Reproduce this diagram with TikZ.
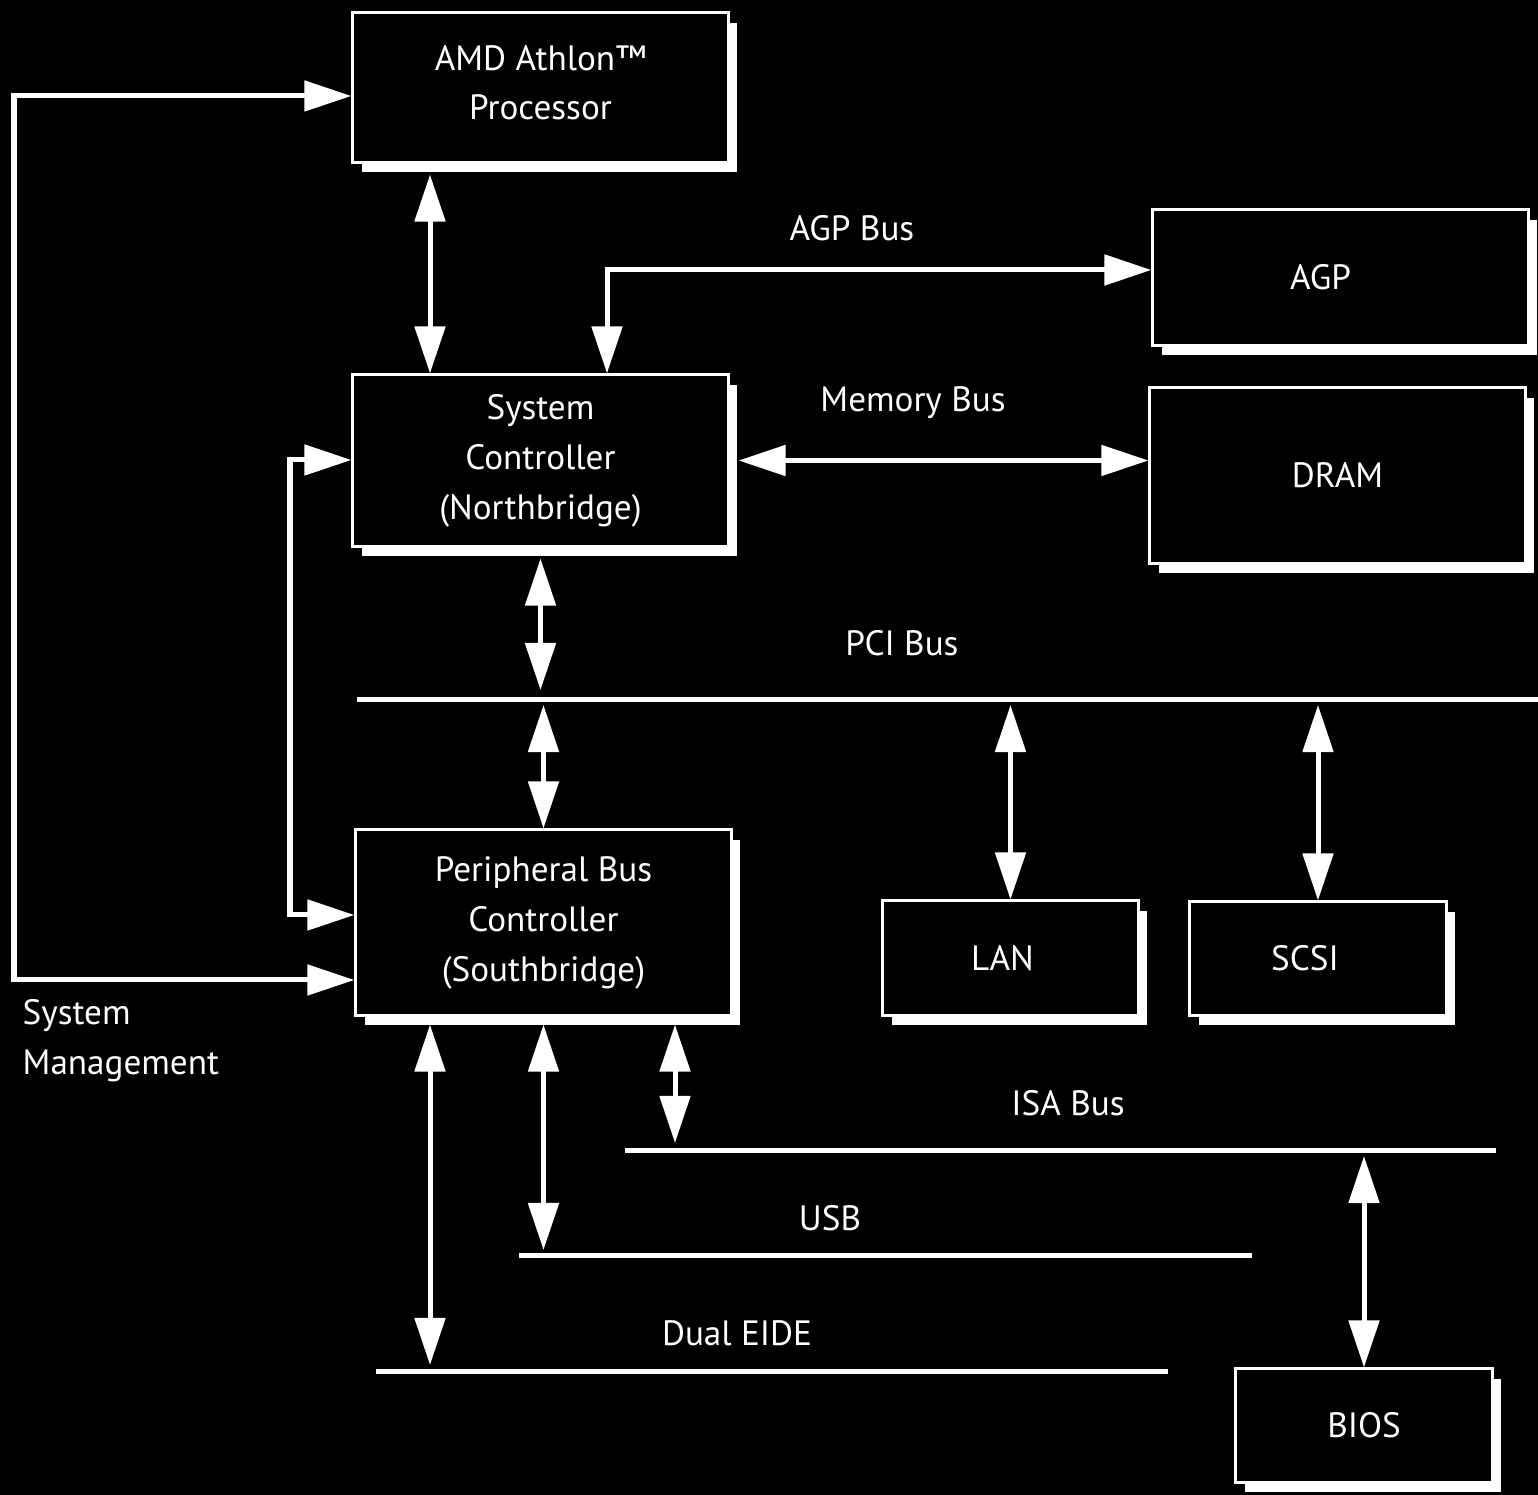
\documentclass[tikz,border=0pt]{standalone}
\usepackage{fontspec}
\setmainfont{PT Sans}
\usetikzlibrary{arrows.meta,shadows}

\tikzset{
  box/.style={draw=white, fill=black, line width=0.03cm, text=white, inner sep=0pt,
    align=center, font=\fontsize{10pt}{14.2pt}\selectfont,
    drop shadow={shadow xshift=0.09cm, shadow yshift=-0.1cm, fill=white, opacity=1}},
  link/.style={draw=white, line width=0.05cm,
    {Triangle[length=0.47cm,width=0.3cm]}-{Triangle[length=0.47cm,width=0.3cm]}},
  bus/.style={draw=white, line width=0.05cm},
  lbl/.style={text=white, inner sep=0pt, font=\fontsize{10pt}{14.2pt}\selectfont},
}

\begin{document}
\begin{tikzpicture}[x=0.01cm, y=-0.01cm]

	% background
\fill[black] (0,0) rectangle (1538,1495);
\useasboundingbox (0,0) rectangle (1538,1495);

	% processor and northbridge
\node[box, minimum width=3.75cm, minimum height=1.49cm] (cpu) at (540.5,87.5) {AMD Athlon™\\Processor\\[-0.4cm]};
\node[box, minimum width=3.75cm, minimum height=1.71cm] (nb) at (540.5,460.5) {System\\Controller\\(Northbridge)};

	% agp and dram
\node[box, minimum width=3.75cm, minimum height=1.35cm] (agp) at (1340.5,277.5) {AGP\hspace{0.4cm}};
\node[box, minimum width=3.75cm, minimum height=1.75cm] (dram) at (1337.5,475.5) {DRAM};

	% southbridge
\node[box, minimum width=3.75cm, minimum height=1.85cm] (sb) at (543.5,922.5) {Peripheral Bus\\Controller\\(Southbridge)};

	% pci devices
\node[box, minimum width=2.55cm, minimum height=1.14cm] (lan) at (1010.5,958) {LAN\hspace{0.16cm}};
\node[box, minimum width=2.56cm, minimum height=1.13cm] (scsi) at (1318,958.5) {SCSI\hspace{0.26cm}};

	% bios
\node[box, minimum width=2.56cm, minimum height=1.13cm] (bios) at (1364,1425.5) {BIOS};

	% bus lines
\coordinate (pciL) at (357,700);
\coordinate (pciR) at (1538,700);
\coordinate (isaL) at (625,1151);
\coordinate (isaR) at (1496,1151);
\coordinate (usbL) at (519,1256);
\coordinate (usbR) at (1252,1256);
\coordinate (ideL) at (376,1372);
\coordinate (ideR) at (1168,1372);
\draw[bus] (pciL) -- (pciR);
\draw[bus] (isaL) -- (isaR);
\draw[bus] (usbL) -- (usbR);
\draw[bus] (ideL) -- (ideR);

	% bend points and columns
\coordinate (smtop) at (14,96);
\coordinate (smbot) at (14,980);
\coordinate (lktop) at (290,460);
\coordinate (lkbot) at (290,915);
\coordinate (cpucol) at (430,0);
\coordinate (agpbend) at (607,270);
\coordinate (isacol) at (675,0);
\coordinate (idecol) at (430,0);

	% system management
\draw[link] (cpu.west |- smtop) -- (smtop) -- (smbot) -- (sb.west |- smbot);
\node[lbl, anchor=north west, align=left] (smtext) at (22,999) {System\\Management};

	% northbridge to southbridge
\draw[link] (nb.west |- lktop) -- (lktop) -- (lkbot) -- (sb.west |- lkbot);

	% processor bus
\draw[link, shorten <=0.11cm] (cpu.south -| cpucol) -- (nb.north -| cpucol);

	% agp bus
\draw[link] (nb.north -| agpbend) -- (agpbend) -- (agp.west |- agpbend);
\node[lbl] (agptext) at (852,228) {AGP Bus};

	% memory bus
\draw[link, shorten <=0.09cm] (nb.east) -- (dram.west |- nb.east);
\node[lbl] (memtext) at (913,403) {Memory Bus};

	% pci bus
\draw[link, shorten <=0.11cm, shorten >=0.1cm] (nb.south) -- (nb.south |- pciL);
\draw[link, shorten >=0.05cm] (sb.north) -- (sb.north |- pciL);
\draw[link, shorten >=0.05cm] (lan.north) -- (lan.north |- pciL);
\draw[link, shorten >=0.05cm] (scsi.north) -- (scsi.north |- pciL);
\node[lbl] (pcitext) at (902,643) {PCI Bus};

	% isa bus
\draw[link, shorten <=0.08cm, shorten >=0.08cm] (sb.south -| isacol) -- (isaL -| isacol);
\draw[link, shorten >=0.05cm] (bios.north) -- (bios.north |- isaL);
\node[lbl] (isatext) at (1068,1103) {ISA Bus};

	% usb
\draw[link, shorten <=0.08cm, shorten >=0.06cm] (sb.south) -- (sb.south |- usbL);
\node[lbl] (usbtext) at (830,1218) {USB};

	% dual eide
\draw[link, shorten <=0.08cm, shorten >=0.07cm] (sb.south -| idecol) -- (ideL -| idecol);
\node[lbl] (idetext) at (737,1333) {Dual EIDE};

\end{tikzpicture}
\end{document}
